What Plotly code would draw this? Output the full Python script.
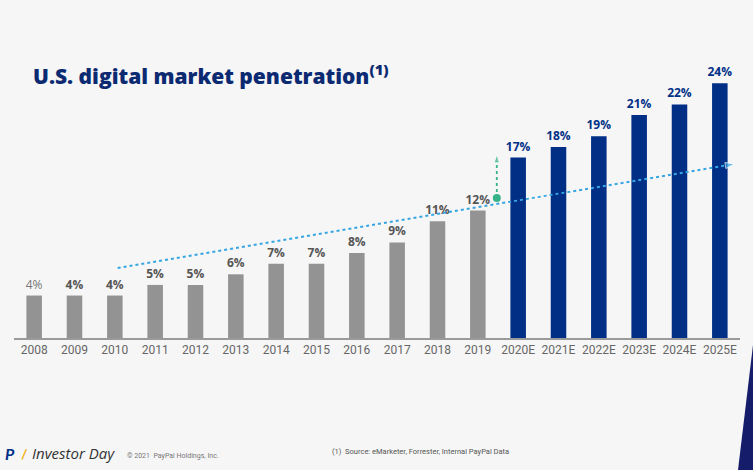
import plotly.graph_objects as go

years = ["2008", "2009", "2010", "2011", "2012", "2013", "2014", "2015", "2016",
         "2017", "2018", "2019", "2020E", "2021E", "2022E", "2023E", "2024E", "2025E"]
penetration = [4, 4, 4, 5, 5, 6, 7, 7, 8, 9, 11, 12, 17, 18, 19, 21, 22, 24]
is_estimate = [y.endswith("E") for y in years]

# trend arrow (data coordinates)
trend_x = [2.07, 17.37]
trend_y = [6.6, 16.4]
# gap arrow between 2019 actual and 2020E
gap_x = [11.47, 11.47]
gap_y = [13.2, 17.3]

GRAY = "#939393"
NAVY = "#012f86"
BG = "#f6f6f6"
GREEN = "#37b38a"
BLUE_DOT = "#36a6e3"

xs = list(range(len(years)))
colors = [NAVY if e else GRAY for e in is_estimate]
label_colors = [NAVY if e else "#555555" for e in is_estimate]
labels = [f"{v}%" if i == 0 else f"<b>{v}%</b>" for i, v in enumerate(penetration)]
label_colors[0] = "#777777"

fig = go.Figure()
fig.add_trace(go.Bar(
    x=xs, y=penetration, marker=dict(color=colors, line=dict(width=0)),
    text=labels, textposition="outside", cliponaxis=False, constraintext="none",
    textfont=dict(family="Open Sans", size=12, color=label_colors),
    width=0.385, hoverinfo="skip",
))
fig.add_trace(go.Scatter(
    x=trend_x, y=trend_y, mode="lines+markers",
    line=dict(color=BLUE_DOT, width=2, dash="dot"),
    marker=dict(symbol="arrow", size=[0.1, 10], angleref="previous", color=BLUE_DOT),
    hoverinfo="skip", cliponaxis=False,
))
fig.add_trace(go.Scatter(
    x=gap_x, y=gap_y, mode="lines+markers",
    line=dict(color=GREEN, width=1.8, dash="dot"),
    marker=dict(symbol="arrow", size=[0.1, 9], angleref="previous", color=GREEN),
    hoverinfo="skip", cliponaxis=False,
))
fig.add_trace(go.Scatter(
    x=gap_x[:1], y=gap_y[:1], mode="markers",
    marker=dict(symbol="circle", size=8, color=GREEN, line=dict(width=0)),
    hoverinfo="skip", cliponaxis=False,
))

fig.update_layout(
    width=753, height=470,
    margin=dict(l=14, r=13, t=62, b=132),
    paper_bgcolor=BG, plot_bgcolor=BG,
    showlegend=False,
    xaxis=dict(range=[-0.5, 17.5], tickvals=xs, ticktext=years, showgrid=False,
               zeroline=False, showline=True, linecolor="#9a9a9a", linewidth=1.5,
               ticks="", tickfont=dict(family="Roboto", size=12, color="#666666")),
    yaxis=dict(range=[0, 26], visible=False, showgrid=False, zeroline=False),
    annotations=[
        dict(text="U.S. digital market penetration<sup>(1)</sup>",
             xref="paper", yref="paper", x=0, y=0, xanchor="left", yanchor="middle",
             showarrow=False,
             font=dict(family="Open Sans", size=21, weight=800, color="#0b2a72")),
        dict(text="<b><i>P</i></b>", xref="paper", yref="paper", x=0, y=0,
             showarrow=False, font=dict(family="Lato", size=16, color=NAVY)),
        dict(text="<b>/</b>", xref="paper", yref="paper", x=0, y=0,
             showarrow=False, font=dict(family="Lato", size=14, color="#f2b21c")),
        dict(text="<i>Investor Day</i>", xref="paper", yref="paper", x=0, y=0, xanchor="left",
             showarrow=False, font=dict(family="Open Sans", size=15, color="#333333")),
        dict(text="© 2021  PayPal Holdings, Inc.", xref="paper", yref="paper", x=0, y=0,
             xanchor="left", showarrow=False,
             font=dict(family="Roboto", size=7, color="#777777")),
        dict(text="(1)  Source: eMarketer, Forrester, Internal PayPal Data", xref="paper",
             yref="paper", x=0, y=0, xanchor="left", showarrow=False,
             font=dict(family="Roboto", size=7.5, color="#555555")),
    ],
)

# place paper-anchored texts by pixel position
W, H = 753, 470
ml, mr, mt, mb = 14, 13, 62, 132
pw, ph = W - ml - mr, H - mt - mb
def px(x): return (x - ml) / pw
def py(y): return (H - mb - y) / ph
pos = [(31, 74), (10, 453), (24, 453), (30, 453), (125, 456), (330, 451)]
for ann, (x, y) in zip(fig.layout.annotations, pos):
    ann.x = px(x)
    ann.y = py(y)
    ann.yanchor = "middle"
    if ann.xanchor is None:
        ann.xanchor = "center"

fig.add_shape(type="path", xref="paper", yref="paper",
              path=f"M {px(753)} {py(345)} L {px(738)} {py(470)} L {px(753)} {py(470)} Z",
              fillcolor="#151c6a", line=dict(width=0))

fig.write_html("out.html")
